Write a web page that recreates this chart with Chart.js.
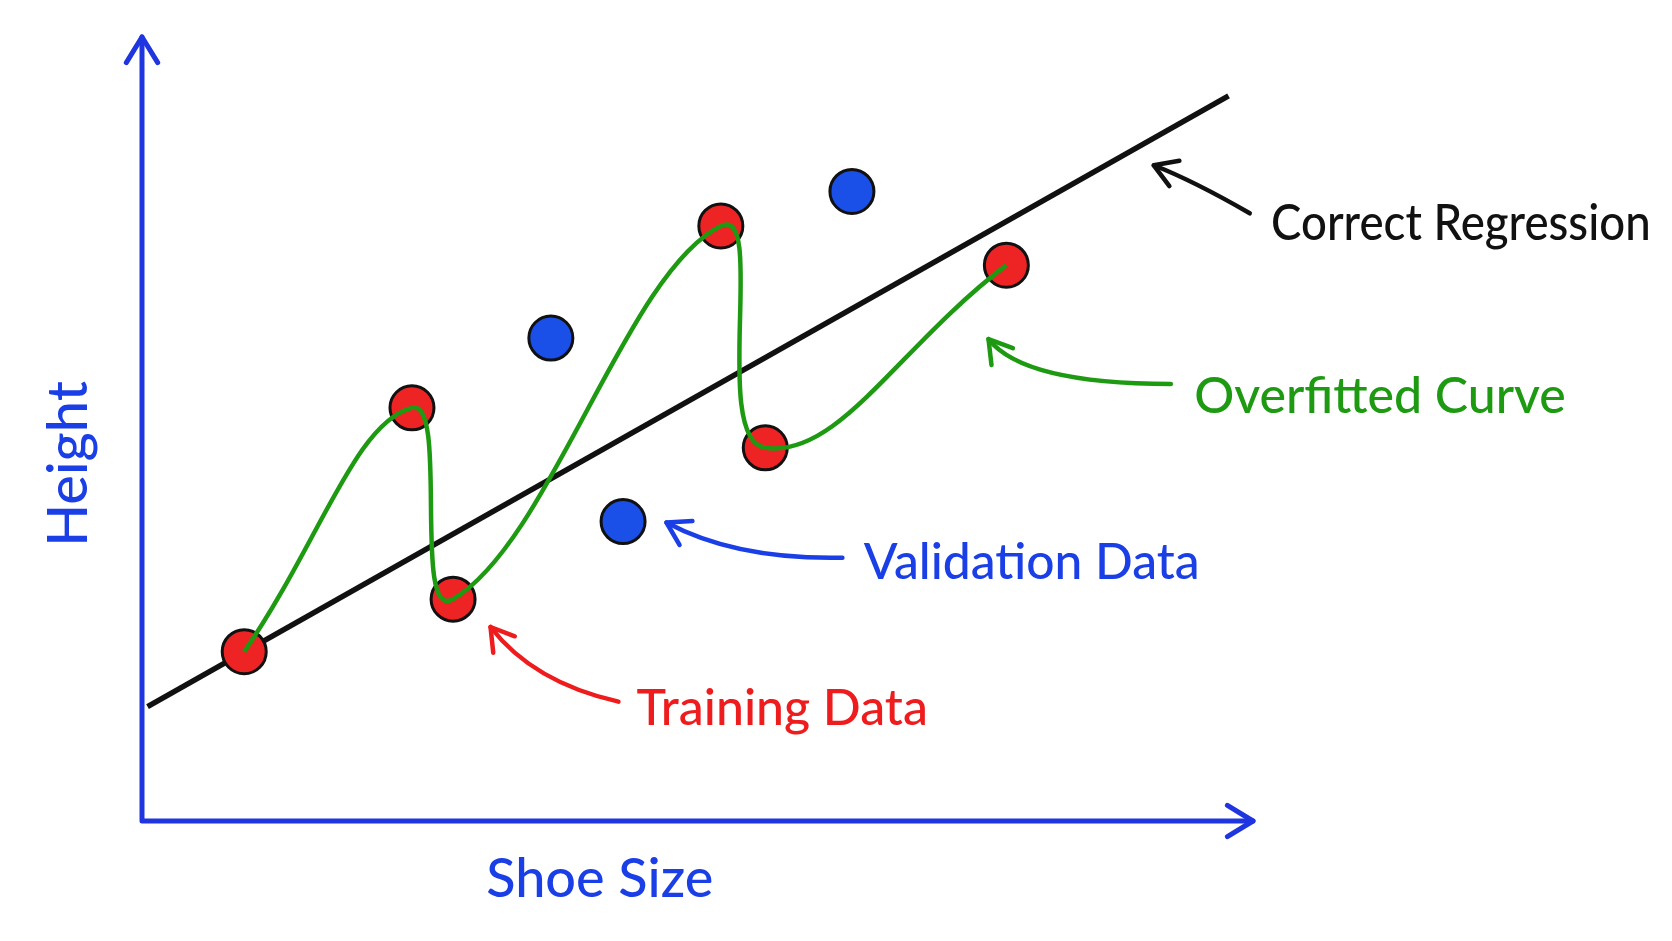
<!DOCTYPE html>
<html>
<head>
<meta charset="utf-8">
<script src="https://cdn.jsdelivr.net/npm/chart.js@4"></script>
<style>
  body { margin: 0; background: #fff; }
</style>
</head>
<body>
<canvas id="chart" width="1672" height="941"></canvas>
<script>
// data in abstract units (0..10 on both axes)
const trainX = [0.92, 2.43, 2.80, 5.21, 5.61, 7.78];
const trainY = [2.16, 5.27, 2.83, 7.59, 4.76, 7.09];
const validX = [3.68, 4.33, 6.39];
const validY = [6.16, 3.82, 8.03];
const lineX = [0.05, 9.78];
const lineY = [1.46, 9.25];

const S = 1672 / 1568; // picture was measured at 1568 wide
const FONT = "Lato, 'Open Sans', sans-serif";

const toPts = (xs, ys) => xs.map((x, i) => ({ x: x, y: ys[i] }));

function arrowHead(ctx, x, y, ang, len) {
  ctx.beginPath();
  ctx.moveTo(x + len * Math.cos(ang + 0.55), y + len * Math.sin(ang + 0.55));
  ctx.lineTo(x, y);
  ctx.lineTo(x + len * Math.cos(ang - 0.55), y + len * Math.sin(ang - 0.55));
  ctx.stroke();
}

// curved pointer arrow from text to target
function pointer(ctx, color, x0, y0, cx, cy, x1, y1) {
  ctx.save();
  ctx.strokeStyle = color;
  ctx.lineWidth = 4.5;
  ctx.lineCap = "round";
  ctx.lineJoin = "round";
  ctx.beginPath();
  ctx.moveTo(x0 * S, y0 * S);
  ctx.quadraticCurveTo(cx * S, cy * S, x1 * S, y1 * S);
  ctx.stroke();
  const ang = Math.atan2(cy - y1, cx - x1);
  arrowHead(ctx, x1 * S, y1 * S, ang, 26);
  ctx.restore();
}

// text squeezed to the width it has in the picture
function label(ctx, text, color, x, y, size, w, rot) {
  ctx.save();
  ctx.fillStyle = color;
  ctx.font = "500 " + size + "px " + FONT;
  ctx.textBaseline = "middle";
  ctx.translate(x * S, y * S);
  if (rot) { ctx.rotate(rot); ctx.textAlign = "center"; }
  ctx.fillText(text, 0, 0, w * S);
  ctx.restore();
}

const decor = {
  id: "decor",
  beforeDatasetsDraw(chart) {
    const ctx = chart.ctx;
    const a = chart.chartArea;
    ctx.save();
    ctx.strokeStyle = "#1f35e0";
    ctx.lineWidth = 5;
    ctx.lineCap = "round";
    ctx.lineJoin = "round";
    ctx.beginPath();
    ctx.moveTo(a.left, a.top);
    ctx.lineTo(a.left, a.bottom);
    ctx.lineTo(a.right, a.bottom);
    ctx.stroke();
    arrowHead(ctx, a.left, a.top, Math.PI / 2, 30);
    arrowHead(ctx, a.right, a.bottom, Math.PI, 30);
    ctx.restore();
  },
  afterDraw(chart) {
    const ctx = chart.ctx;
    label(ctx, "Correct Regression", "#111", 1192, 210, 50, 356);
    label(ctx, "Overfitted Curve", "#1e9a12", 1120, 372, 50, 360);
    label(ctx, "Validation Data", "#1a3fe6", 810, 528, 50, 315);
    label(ctx, "Training Data", "#ee1c1c", 597, 665, 50, 283);
    label(ctx, "Shoe Size", "#1a3fe6", 456, 825, 54, 264);
    label(ctx, "Height", "#1a3fe6", 65, 435, 56, 175, -Math.PI / 2);
    pointer(ctx, "#111", 1172, 200, 1120, 170, 1082, 155);
    pointer(ctx, "#1e9a12", 1098, 360, 960, 360, 927, 318);
    pointer(ctx, "#1a3fe6", 790, 523, 690, 525, 625, 490);
    pointer(ctx, "#ee1c1c", 580, 658, 500, 640, 460, 588);
  }
};

new Chart(document.getElementById("chart"), {
  type: "scatter",
  data: {
    datasets: [
      {
        label: "Correct Regression",
        type: "line",
        data: toPts(lineX, lineY),
        borderColor: "#111",
        borderWidth: 5.5,
        pointRadius: 0,
        order: 3,
      },
      {
        label: "Overfitted Curve",
        type: "line",
        data: toPts(trainX, trainY),
        borderColor: "#1e9a12",
        borderWidth: 4.5,
        tension: 0.45,
        pointRadius: 0,
        order: 1,
      },
      {
        label: "Training Data",
        data: toPts(trainX, trainY),
        backgroundColor: "#ee2424",
        borderColor: "#111",
        borderWidth: 3,
        pointRadius: 22,
        order: 2,
      },
      {
        label: "Validation Data",
        data: toPts(validX, validY),
        backgroundColor: "#1a4fe8",
        borderColor: "#111",
        borderWidth: 3,
        pointRadius: 22,
        order: 2,
      },
    ],
  },
  options: {
    responsive: false,
    animation: false,
    layout: { padding: { left: 142, right: 419, top: 37, bottom: 120 } },
    scales: {
      x: { type: "linear", min: 0, max: 10, display: false },
      y: { type: "linear", min: 0, max: 10, display: false },
    },
    plugins: { legend: { display: false }, tooltip: { enabled: false } },
  },
  plugins: [decor],
});
</script>
</body>
</html>
